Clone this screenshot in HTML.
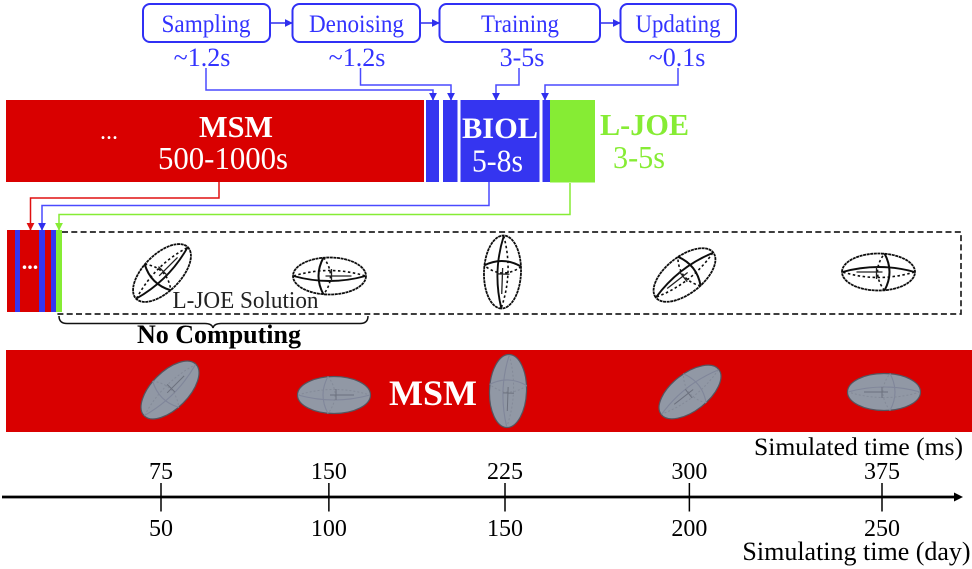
<!DOCTYPE html>
<html lang="en">
<head>
<meta charset="utf-8">
<title>L-JOE workflow timeline</title>
<style>
html,body{margin:0;padding:0;background:#fff;}
svg{display:block;font-family:"Liberation Serif",serif;}
.blue{fill:#3535f0;}
.link{fill:none;stroke-width:1.5;}
.step{fill:#fff;stroke:#3030f5;stroke-width:2;}
.steptext{fill:#3333ff;font-size:25px;text-anchor:middle;}
.timetext{fill:#3333ff;font-size:26px;text-anchor:middle;}
.tick-label{fill:#000;font-size:24px;text-anchor:middle;}
</style>
</head>
<body>
<svg xmlns="http://www.w3.org/2000/svg" width="972" height="569" viewBox="0 0 972 569">
<defs>
<marker id="arrow-blue" viewBox="0 0 10 10" refX="9" refY="5" markerWidth="8" markerHeight="8" markerUnits="userSpaceOnUse" orient="auto"><path d="M0 0L10 5L0 10Z" fill="#2f2fee"/></marker>
<marker id="arrow-red" viewBox="0 0 10 10" refX="9" refY="5" markerWidth="8" markerHeight="8" markerUnits="userSpaceOnUse" orient="auto"><path d="M0 0L10 5L0 10Z" fill="#e01010"/></marker>
<marker id="arrow-green" viewBox="0 0 10 10" refX="9" refY="5" markerWidth="8" markerHeight="8" markerUnits="userSpaceOnUse" orient="auto"><path d="M0 0L10 5L0 10Z" fill="#86ec34"/></marker>
<filter id="soft" x="-10%" y="-10%" width="120%" height="120%"><feGaussianBlur stdDeviation="0.3"/></filter>
<g id="wire">
<ellipse cx="0" cy="0" rx="36.5" ry="18.5" fill="none" stroke="#111" stroke-width="1.8" stroke-dasharray="3 0.6"/>
<path d="M-6 -18.5Q-16 0 -6 18.5" fill="none" stroke="#111" stroke-width="2"/>
<path d="M-6 -18.5Q8 0 -6 18.5" fill="none" stroke="#111" stroke-width="1.6" stroke-dasharray="2.5 2.5"/>
<path d="M-36 0Q0 10 36 0" fill="none" stroke="#111" stroke-width="1.9"/>
<path d="M-36 0Q0 -11 36 0" fill="none" stroke="#111" stroke-width="1.6" stroke-dasharray="2.5 2.5"/>
<path d="M-4 0H22M2 -7V6" fill="none" stroke="#222" stroke-width="1.3"/>
</g>
<g id="solid-ellipsoid">
<ellipse cx="0" cy="0" rx="36.5" ry="18.5" fill="#9198a5" stroke="#55555f" stroke-width="1.2"/>
<path d="M-6 -18.5Q-16 0 -6 18.5M-36 0Q0 10 36 0" fill="none" stroke="#80869a" stroke-width="1.1"/>
<path d="M-6 -18.5Q8 0 -6 18.5M-36 0Q0 -11 36 0" fill="none" stroke="#848a98" stroke-width="1" stroke-dasharray="2 2"/>
<path d="M-4 0H20M2 -6V5" fill="none" stroke="#6c717e" stroke-width="1"/>
</g>
</defs>

<g>
<rect x="143" y="4" width="127" height="38" rx="7" class="step"/>
<rect x="292.500" y="4" width="127.500" height="38" rx="7" class="step"/>
<rect x="439.500" y="4" width="160.500" height="38" rx="7" class="step"/>
<rect x="620.500" y="4" width="115.500" height="38" rx="7" class="step"/>
<text x="206" y="32" class="steptext" textLength="89" lengthAdjust="spacingAndGlyphs">Sampling</text>
<text x="356.500" y="32" class="steptext" textLength="95" lengthAdjust="spacingAndGlyphs">Denoising</text>
<text x="520" y="32" class="steptext" textLength="78" lengthAdjust="spacingAndGlyphs">Training</text>
<text x="678" y="32" class="steptext" textLength="85" lengthAdjust="spacingAndGlyphs">Updating</text>
<path d="M270 23H292" class="link" stroke="#2f2fee" stroke-width="2" marker-end="url(#arrow-blue)"/>
<path d="M420 23H439" class="link" stroke="#2f2fee" stroke-width="2" marker-end="url(#arrow-blue)"/>
<path d="M600 23H620" class="link" stroke="#2f2fee" stroke-width="2" marker-end="url(#arrow-blue)"/>
<text x="202" y="66" class="timetext">~1.2s</text>
<text x="357" y="66" class="timetext">~1.2s</text>
<text x="522" y="66" class="timetext">3-5s</text>
<text x="677" y="66" class="timetext">~0.1s</text>
</g>

<g>
<path d="M206 68V90H433V100" class="link" stroke="#4a4aff" marker-end="url(#arrow-blue)"/>
<path d="M360.500 68V85H451V100" class="link" stroke="#4a4aff" marker-end="url(#arrow-blue)"/>
<path d="M519 68V85H496V100" class="link" stroke="#4a4aff" marker-end="url(#arrow-blue)"/>
<path d="M678 68V85H545V100" class="link" stroke="#4a4aff" marker-end="url(#arrow-blue)"/>
</g>

<g>
<rect x="6" y="100" width="418" height="82" fill="#d90000"/>
<rect x="426" y="100" width="13" height="82" class="blue"/>
<rect x="443" y="100" width="14.500" height="82" class="blue"/>
<rect x="460.500" y="100" width="79" height="82" class="blue"/>
<rect x="542.500" y="100" width="7.500" height="82" class="blue"/>
<rect x="550" y="100" width="45" height="82.500" fill="#86ec34"/>
<text x="109" y="139" fill="#fff" font-size="24" text-anchor="middle">...</text>
<text x="236" y="137" fill="#fff" font-size="31" font-weight="bold" text-anchor="middle" textLength="74" lengthAdjust="spacingAndGlyphs">MSM</text>
<text x="223" y="169" fill="#fff" font-size="32" text-anchor="middle" textLength="130" lengthAdjust="spacingAndGlyphs">500-1000s</text>
<text x="500" y="138" fill="#fff" font-size="30" font-weight="bold" text-anchor="middle" textLength="76" lengthAdjust="spacingAndGlyphs">BIOL</text>
<text x="497.500" y="171.500" fill="#fff" font-size="32" text-anchor="middle" textLength="51" lengthAdjust="spacingAndGlyphs">5-8s</text>
<text x="644.500" y="135" fill="#86ec34" font-size="31" font-weight="bold" text-anchor="middle" textLength="89" lengthAdjust="spacingAndGlyphs">L-JOE</text>
<text x="639" y="168" fill="#86ec34" font-size="32" text-anchor="middle" textLength="52" lengthAdjust="spacingAndGlyphs">3-5s</text>
</g>

<g>
<path d="M219 182V198H30.500V230" class="link" stroke="#e01010" marker-end="url(#arrow-red)"/>
<path d="M489 182V205.500H42V230" class="link" stroke="#4a4aff" marker-end="url(#arrow-blue)"/>
<path d="M570 183V214.500H59V230" class="link" stroke="#86ec34" marker-end="url(#arrow-green)"/>
</g>

<g>
<rect x="7" y="230" width="49" height="82" fill="#d90000"/>
<rect x="15" y="230" width="5" height="82" class="blue"/>
<rect x="39" y="230" width="6" height="82" class="blue"/>
<rect x="51" y="230" width="5" height="82" class="blue"/>
<rect x="56" y="230" width="6" height="82" fill="#86ec34"/>
<text x="30" y="269" fill="#fff" font-size="22" font-weight="bold" text-anchor="middle">...</text>
<path d="M62 232H961V314H56" fill="none" stroke="#222" stroke-width="1.700" stroke-dasharray="6 3.300"/>
<g filter="url(#soft)">
<use href="#wire" transform="translate(162 273) rotate(-45)"/>
<use href="#wire" transform="translate(329.500 276)"/>
<use href="#wire" transform="translate(502.500 272) rotate(92)"/>
<use href="#wire" transform="translate(684.500 275) rotate(-38) scale(-1 -1)"/>
<use href="#wire" transform="translate(878.500 272) scale(-1 -1)"/>
</g>
<text x="245.500" y="308" fill="#222" font-size="24" text-anchor="middle" textLength="146" lengthAdjust="spacingAndGlyphs">L-JOE Solution</text>
<path d="M59 316Q59 323.500 67 323.500H205Q212 323.500 213 328Q214 323.500 221 323.500H360Q368 323.500 368 316" fill="none" stroke="#111" stroke-width="1.500"/>
<text x="219" y="343" fill="#000" font-size="26" font-weight="bold" text-anchor="middle" textLength="164" lengthAdjust="spacingAndGlyphs">No Computing</text>
</g>

<g>
<rect x="6" y="350" width="966" height="82" fill="#d90000"/>
<use href="#solid-ellipsoid" transform="translate(170 390) rotate(-45)"/>
<use href="#solid-ellipsoid" transform="translate(334 395)"/>
<use href="#solid-ellipsoid" transform="translate(508 391) rotate(92)"/>
<use href="#solid-ellipsoid" transform="translate(690 392) rotate(-38) scale(-1 -1)"/>
<use href="#solid-ellipsoid" transform="translate(884 392) scale(-1 -1)"/>
<text x="433" y="405" fill="#fff" font-size="36" font-weight="bold" text-anchor="middle">MSM</text>
</g>

<g id="time-axis">
<text x="858.500" y="455" fill="#000" font-size="25.600" text-anchor="middle">Simulated time (ms)</text>
<path d="M2 497H957" stroke="#000" stroke-width="2.800" fill="none"/>
<path d="M954 492.500L963 497L954 501.500Z" fill="#000"/>
<text x="856.500" y="560" fill="#000" font-size="26" text-anchor="middle">Simulating time (day)</text>
</g>
</svg>
<script>
const simulatingDays = [50, 100, 150, 200, 250];
const simulatedMs = [75, 150, 225, 300, 375];

function axisX(day) {
  const d = day - simulatingDays[0];
  return 161 + 3.275 * d + 0.00165 * d * d;
}

const axisGroup = document.getElementById('time-axis');
const svgNS = 'http://www.w3.org/2000/svg';

simulatingDays.forEach(function (day, i) {
  const x = axisX(day);

  const tick = document.createElementNS(svgNS, 'line');
  tick.setAttribute('x1', x);
  tick.setAttribute('x2', x);
  tick.setAttribute('y1', 483);
  tick.setAttribute('y2', 511.5);
  tick.setAttribute('stroke', '#000');
  tick.setAttribute('stroke-width', '1.5');
  
  
  axisGroup.appendChild(tick);

  const topLabel = document.createElementNS(svgNS, 'text');
  topLabel.setAttribute('x', x);
  topLabel.setAttribute('y', 479);
  topLabel.setAttribute('class', 'tick-label');
  topLabel.textContent = simulatedMs[i];
  
  
  axisGroup.appendChild(topLabel);

  const bottomLabel = document.createElementNS(svgNS, 'text');
  bottomLabel.setAttribute('x', x);
  bottomLabel.setAttribute('y', 536);
  bottomLabel.setAttribute('class', 'tick-label');
  bottomLabel.textContent = day;
  
  
  axisGroup.appendChild(bottomLabel);
});
</script>
</body>
</html>
